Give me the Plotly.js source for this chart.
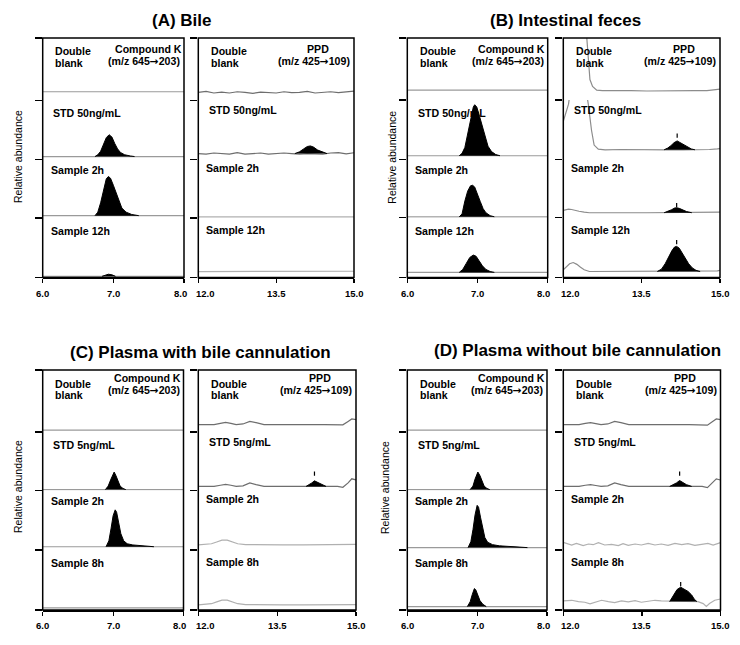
<!DOCTYPE html>
<html><head><meta charset="utf-8">
<script src="https://cdn.plot.ly/plotly-3.0.1.min.js"></script>
<style>html,body{margin:0;padding:0;background:#fff}#chart{width:740px;height:645px}</style>
</head><body><div id="chart"></div>
<script>
// ---------------- text ----------------
const panelTitles = ['(A) Bile', '(B) Intestinal feces', '(C) Plasma with bile cannulation', '(D) Plasma without bile cannulation'];
const laneLabelsTop = ['STD 50ng/mL', 'Sample 2h', 'Sample 12h'];
const laneLabelsBottom = ['STD 5ng/mL', 'Sample 2h', 'Sample 8h'];
const blankLabel = ['Double', 'blank'];
const ckHeader = ['Compound K', '(m/z 645\u2192203)'];
const ppdHeader = ['PPD', '(m/z 425\u2192109)'];
const yTitle = 'Relative abundance';

// ---------------- ticks ----------------
const ckRange = [6.0, 8.0];
const ckTicks = [6.0, 7.0, 8.0];
const ckTickText = ['6.0', '7.0', '8.0'];
const ppdRange = [12.0, 15.0];
const ppdTicks = [12.0, 13.5, 15.0];
const ppdTickText = ['12.0', '13.5', '15.0'];

// ---------------- chromatograms: time (min) / abundance (% of lane full scale) ----------------
const ckFlatT = [6.0, 8.0];
const ckFlatV = [0, 0];
const ppdFlatT = [12.0, 15.0];
const ppdFlatV = [0, 0];
const ppdFlatUpV = [0, 0.5];

// (A) Bile - Compound K
const A_ckStdT = [6.74, 6.78, 6.82, 6.86, 6.90, 6.94, 6.98, 7.02, 7.06, 7.10, 7.16, 7.24, 7.30];
const A_ckStdV = [0, 3, 9, 20, 32, 37, 33, 22, 13, 7, 3, 1, 0];
const A_ck2hT = [6.74, 6.78, 6.82, 6.86, 6.90, 6.93, 6.96, 7.00, 7.04, 7.08, 7.12, 7.18, 7.26, 7.36];
const A_ck2hV = [0, 6, 22, 45, 63, 67, 64, 52, 38, 24, 13, 6, 2, 0];
const A_ck12hT = [6.84, 6.89, 6.93, 6.98, 7.03];
const A_ck12hV = [0, 2.5, 3.5, 2.5, 0];
// (A) Bile - PPD
const A_ppdNoiseT = [12.0, 12.15, 12.3, 12.45, 12.6, 12.75, 12.9, 13.05, 13.2, 13.35, 13.5, 13.65, 13.8, 13.95, 14.1, 14.25, 14.4, 14.55, 14.7, 14.85, 15.0];
const A_ppdBlankV = [0, 1.5, -1, 0.5, -1, 1, 0, -1.5, 0.5, 0, -1, 1, -0.5, 0, 1.5, -1, 0, 1, -0.5, 1, 2];
const A_ppdStdLineV = [0, -1, 1, 0, -1, 1.5, -1, 0, 1, -1, 0, 1, 0, -1, 0, 0, -1, 1, 1.5, -0.5, 1.5];
const A_ppdStdPeakT = [13.86, 13.95, 14.03, 14.10, 14.16, 14.22, 14.30, 14.38, 14.48];
const A_ppdStdPeakV = [0, 3, 8, 12, 13, 11, 6, 3, 0];

// (B) Intestinal feces - Compound K
const B_ckStdT = [6.74, 6.78, 6.82, 6.86, 6.90, 6.94, 6.96, 6.99, 7.03, 7.07, 7.11, 7.15, 7.20, 7.26, 7.32];
const B_ckStdV = [0, 4, 14, 36, 62, 82, 86, 82, 66, 48, 30, 16, 7, 2, 0];
const B_ck2hT = [6.74, 6.78, 6.82, 6.86, 6.90, 6.93, 6.96, 7.00, 7.04, 7.08, 7.12, 7.18, 7.24];
const B_ck2hV = [0, 5, 27, 44, 53, 54, 51, 40, 26, 14, 7, 2, 0];
const B_ck12hT = [6.74, 6.79, 6.84, 6.89, 6.94, 6.98, 7.02, 7.07, 7.12, 7.18, 7.24];
const B_ck12hV = [0, 5, 15, 25, 29, 27, 20, 11, 5, 1.5, 0];
// (B) Intestinal feces - PPD
const B_ppdBlankT = [12.0, 12.20, 12.30, 12.38, 12.42, 12.45, 12.48, 12.51, 12.56, 12.64, 12.75, 13.0, 13.3, 13.6, 13.9, 14.2, 14.5, 14.75, 14.9, 15.0];
const B_ppdBlankV = [900, 600, 400, 230, 140, 85, 46, 18, 7, 1, 0, 0.5, 0, -0.5, 0, 0.5, 0, 0, 1, 2.5];
const B_ppdStdLineT = [12.0, 12.02, 12.06, 12.10, 12.15, 12.25, 12.35, 12.44, 12.48, 12.54, 12.59, 12.67, 12.8, 13.1, 13.4, 13.7, 14.0, 14.3, 14.6, 14.8, 14.95, 15.0];
const B_ppdStdLineV = [48, 54, 66, 77, 110, 160, 150, 100, 76, 33, 8, 1, 0, 0.5, 0, 0.5, 0, 0, 0, 0.5, 1.5, 2];
const B_ppdStdPeakT = [13.93, 14.00, 14.06, 14.12, 14.18, 14.24, 14.30, 14.38, 14.45, 14.52];
const B_ppdStdPeakV = [0, 3, 7, 12, 15, 12, 8, 4, 1.5, 0];
const B_ppdStdDotT = [14.18];
const B_ppdStdDotV = [24];
const B_ppd2hLineT = [12.0, 12.05, 12.1, 12.16, 12.22, 12.3, 12.4, 12.5, 12.7, 13.0, 13.3, 13.6, 13.9, 14.2, 14.5, 14.8, 15.0];
const B_ppd2hLineV = [4, 5.5, 6, 5.5, 4, 2.5, 1, 0, 0, 0.5, 0, 0, 0, 0, 0, 0, 1];
const B_ppd2hPeakT = [13.93, 14.00, 14.07, 14.13, 14.17, 14.22, 14.28, 14.36, 14.46];
const B_ppd2hPeakV = [0, 2, 5, 8, 8.5, 7.5, 5, 2, 0];
const B_ppd2hDotT = [14.17];
const B_ppd2hDotV = [13];
const B_ppd12hLineT = [12.0, 12.06, 12.12, 12.19, 12.26, 12.33, 12.40, 12.50, 12.7, 13.0, 13.3, 13.6, 13.8, 14.6, 14.8, 14.95, 15.0];
const B_ppd12hLineV = [3, 8, 13, 15, 12, 7, 3, 0, 0, 0.5, 0, 0, 0, 0, 0, 1, 2];
const B_ppd12hPeakT = [13.80, 13.88, 13.95, 14.02, 14.08, 14.13, 14.17, 14.22, 14.28, 14.34, 14.40, 14.47, 14.54, 14.62];
const B_ppd12hPeakV = [0, 4, 13, 25, 35, 41, 42, 39, 31, 22, 13, 6, 2, 0];
const B_ppd12hDotT = [14.17];
const B_ppd12hDotV = [49];

// (C) Plasma with bile cannulation - Compound K
const C_ckStdT = [6.89, 6.93, 6.97, 7.00, 7.015, 7.04, 7.07, 7.10, 7.14, 7.18];
const C_ckStdV = [0, 6, 18, 28, 30, 24, 13, 6, 2, 0];
const C_ck2hT = [6.90, 6.94, 6.97, 7.00, 7.03, 7.05, 7.08, 7.11, 7.15, 7.20, 7.28, 7.38, 7.50, 7.58];
const C_ck2hV = [0, 10, 30, 52, 62, 58, 40, 22, 10, 5, 3, 2, 1, 0];
// (C) Plasma with bile cannulation - PPD
const C_ppdWaveT = [12.0, 12.15, 12.3, 12.42, 12.52, 12.62, 12.72, 12.85, 12.98, 13.1, 13.25, 13.5, 13.8, 14.1, 14.4, 14.65, 14.75, 14.85, 14.92, 15.0];
const C_ppdBlankV = [0, -0.5, 0, 2, 3.5, 2, 0, 1, 5, 3, 0, 0, -0.5, 0, 0, 0, -0.5, 5, 9, 8];
const C_ppdStdLineV = [0, -0.5, 0, 2, 3.5, 2, 0, 1, 6, 3, 0, 0, -0.5, 0, 0, 0, -1.5, 6, 13, 11];
const C_ppdStdPeakT = [14.05, 14.11, 14.16, 14.21, 14.27, 14.34, 14.43];
const C_ppdStdPeakV = [0, 3, 6, 9.5, 7, 3, 0];
const C_ppdStdDotT = [14.21];
const C_ppdStdDotV = [22];
const C_ppdBumpT = [12.0, 12.15, 12.25, 12.35, 12.45, 12.55, 12.65, 12.75, 12.9, 13.2, 13.6, 14.0, 14.4, 14.8, 15.0];
const C_ppd2hLineV = [0, 0.5, 2, 5, 8, 8, 5, 2, 0.5, 0, 0, 0, 0, 0.5, 1];
const C_ppd8hLineV = [0, 0.5, 2, 5, 8, 8, 5, 2, 0.5, 0, 0, 0, 0, 0.5, 0.5];

// (D) Plasma without bile cannulation - Compound K
const D_ckStdT = [6.90, 6.94, 6.97, 7.00, 7.01, 7.04, 7.07, 7.10, 7.14, 7.18];
const D_ckStdV = [0, 6, 18, 28, 30, 24, 13, 6, 2, 0];
const D_ck2hT = [6.87, 6.91, 6.94, 6.97, 7.00, 7.02, 7.05, 7.08, 7.11, 7.15, 7.22, 7.32, 7.45, 7.60, 7.72];
const D_ck2hV = [0, 10, 30, 55, 71, 68, 50, 30, 17, 9, 5, 3, 2, 1, 0];
const D_ck8hT = [6.86, 6.90, 6.93, 6.96, 6.98, 7.01, 7.04, 7.08, 7.13];
const D_ck8hV = [0, 8, 20, 30, 28, 19, 10, 4, 0];
// (D) Plasma without bile cannulation - PPD
const D_ppdBlankV = [0, -0.5, 0, 2, 3, 1.5, 0, 1, 5, 3, 0, 0, -0.5, 0, 0, 0, -1, 5, 9, 8];
const D_ppdStdLineV = [0, -0.5, 0, 2, 3, 1.5, 0, 1, 6, 3, 0, 0, -0.5, 0, 0, 0, -2, 6, 13, 11];
const D_ppdStdPeakT = [14.03, 14.10, 14.16, 14.22, 14.28, 14.35, 14.45];
const D_ppdStdPeakV = [0, 3, 6, 10, 7, 3, 0];
const D_ppdStdDotT = [14.22];
const D_ppdStdDotV = [22];
const D_ppd2hLineT = [12.0, 12.16, 12.25, 12.38, 12.48, 12.57, 12.67, 12.79, 12.92, 13.05, 13.14, 13.24, 13.37, 13.49, 13.62, 13.75, 13.87, 14.0, 14.13, 14.26, 14.38, 14.51, 14.64, 14.76, 14.86, 15.0];
const D_ppd2hLineV = [3.3, -1.1, 1.7, -2.2, 0.6, -0.6, 2.8, -1.1, 0, -2.2, 1.1, -1.7, 0.6, -1.1, 1.7, -1.1, 0.6, -1.7, 1.7, -0.6, 1.1, -1.7, 0, 1.7, -1.1, 2.8];
const D_ppd8hLineT = [12.0, 12.16, 12.29, 12.41, 12.51, 12.60, 12.73, 12.86, 12.98, 13.11, 13.24, 13.37, 13.49, 13.62, 13.75, 13.87, 14.0, 14.26, 14.57, 14.67, 14.73, 14.79, 14.89, 15.0];
const D_ppd8hLineV = [1.1, 2.2, 0, -1.1, -3.9, -1.1, 2.2, 0, -1.7, 1.1, -0.6, 1.7, -1.1, 0.6, 2.2, 1.1, 1.1, 1.1, 0, -3.3, -8, -3.3, 2.2, 4.4];
const D_ppd8hPeakT = [14.03, 14.10, 14.17, 14.24, 14.31, 14.38, 14.45, 14.50, 14.55];
const D_ppd8hPeakV = [0, 11, 20, 24, 20, 17, 11, 4, 0];
const D_ppd8hDotT = [14.24];
const D_ppd8hDotV = [29];

// ---------------- layout geometry (px) & styles ----------------
const W = 740, H = 645;
const fx = x => x / W;
const fy = y => 1 - y / H;
const FONT = 'Arial, "Liberation Sans", Helvetica, sans-serif';
const GREY = '#9a9a9a', DARK = '#6e6e6e', LIGHT = '#b0b0b0', MID = '#8c8c8c';

const lane = (lt, lv, c, pt, pv, dt, dv) => ({line: [lt, lv], color: c, peak: pt ? [pt, pv] : null, dot: dt ? [dt, dv] : null});

const panels = [
  {title: panelTitles[0], titleXY: [181.7, 20], yTitleXY: [18, 157], labels: laneLabelsTop,
   rows: [38, 100.5, 159.5, 218, 277.5], head: [11.3, 22.7],
   ck: {x: [42.7, 184], d: [14, 5, 4, 2], lanes: [
     lane(ckFlatT, ckFlatV, GREY),
     lane(ckFlatT, ckFlatV, GREY, A_ckStdT, A_ckStdV),
     lane(ckFlatT, ckFlatV, GREY, A_ck2hT, A_ck2hV),
     lane(ckFlatT, ckFlatV, GREY, A_ck12hT, A_ck12hV)]},
   ppd: {x: [198.3, 354], d: [13, 10, 2, 10], lanes: [
     lane(A_ppdNoiseT, A_ppdBlankV, DARK),
     lane(A_ppdNoiseT, A_ppdStdLineV, DARK, A_ppdStdPeakT, A_ppdStdPeakV),
     lane(ppdFlatT, ppdFlatV, LIGHT),
     lane(ppdFlatT, ppdFlatUpV, LIGHT)]}},
  {title: panelTitles[1], titleXY: [565.8, 20], yTitleXY: [391.7, 157], labels: laneLabelsTop,
   rows: [38, 100, 159.3, 217.7, 277.5], head: [11.3, 22.7],
   ck: {x: [407.3, 547.7], d: [16, 6, 1.5, 8.5], lanes: [
     lane(ckFlatT, ckFlatV, GREY),
     lane(ckFlatT, ckFlatV, GREY, B_ckStdT, B_ckStdV),
     lane(ckFlatT, ckFlatV, GREY, B_ck2hT, B_ck2hV),
     lane(ckFlatT, ckFlatV, GREY, B_ck12hT, B_ck12hV)]},
   ppd: {x: [563.3, 720], d: [15, 16, 8.5, 10], lanes: [
     lane(B_ppdBlankT, B_ppdBlankV, MID),
     lane(B_ppdStdLineT, B_ppdStdLineV, MID, B_ppdStdPeakT, B_ppdStdPeakV, B_ppdStdDotT, B_ppdStdDotV),
     lane(B_ppd2hLineT, B_ppd2hLineV, MID, B_ppd2hPeakT, B_ppd2hPeakV, B_ppd2hDotT, B_ppd2hDotV),
     lane(B_ppd12hLineT, B_ppd12hLineV, MID, B_ppd12hPeakT, B_ppd12hPeakV, B_ppd12hDotT, B_ppd12hDotV)]}},
  {title: panelTitles[2], titleXY: [200, 352], yTitleXY: [18, 487], labels: laneLabelsBottom,
   rows: [370, 432, 490.5, 550, 610], head: [8, 20.3],
   ck: {x: [42.7, 183.5], d: [3, 1.5, 5.5, 3.4], lanes: [
     lane(ckFlatT, ckFlatV, GREY),
     lane(ckFlatT, ckFlatV, GREY, C_ckStdT, C_ckStdV),
     lane(ckFlatT, ckFlatV, GREY, C_ck2hT, C_ck2hV),
     lane(ckFlatT, ckFlatV, GREY)]},
   ppd: {x: [198.3, 356], d: [12, 7, 8.5, 8.5], lanes: [
     lane(C_ppdWaveT, C_ppdBlankV, DARK),
     lane(C_ppdWaveT, C_ppdStdLineV, DARK, C_ppdStdPeakT, C_ppdStdPeakV, C_ppdStdDotT, C_ppdStdDotV),
     lane(C_ppdBumpT, C_ppd2hLineV, LIGHT),
     lane(C_ppdBumpT, C_ppd8hLineV, LIGHT)]}},
  {title: panelTitles[3], titleXY: [577, 350], yTitleXY: [385, 488], labels: laneLabelsBottom,
   rows: [370, 432, 490.5, 550, 610], head: [8, 20.3],
   ck: {x: [407.3, 547], d: [3, 1.5, 4, 5.7], lanes: [
     lane(ckFlatT, ckFlatV, GREY),
     lane(ckFlatT, ckFlatV, GREY, D_ckStdT, D_ckStdV),
     lane(ckFlatT, ckFlatV, GREY, D_ck2hT, D_ck2hV),
     lane(ckFlatT, ckFlatV, GREY, D_ck8hT, D_ck8hV)]},
   ppd: {x: [563.3, 720.5], d: [12, 7, 9.5, 14], lanes: [
     lane(C_ppdWaveT, D_ppdBlankV, DARK),
     lane(C_ppdWaveT, D_ppdStdLineV, DARK, D_ppdStdPeakT, D_ppdStdPeakV, D_ppdStdDotT, D_ppdStdDotV),
     lane(D_ppd2hLineT, D_ppd2hLineV, LIGHT),
     lane(D_ppd8hLineT, D_ppd8hLineV, LIGHT, D_ppd8hPeakT, D_ppd8hPeakV, D_ppd8hDotT, D_ppd8hDotV)]}}
];

// ---------------- build ----------------
const traces = [];
const annotations = [];
const shapes = [];
const layout = {
  width: W, height: H, autosize: false,
  margin: {l: 0, r: 0, t: 0, b: 0},
  paper_bgcolor: '#fff', plot_bgcolor: 'rgba(0,0,0,0)',
  showlegend: false, hovermode: false,
  font: {family: FONT, color: '#000'}
};
const LBL = 10.6;
const txt = (s, x, y, opt) => Object.assign({text: s, x: fx(x), y: fy(y), xref: 'paper', yref: 'paper',
  showarrow: false, font: {family: FONT, size: LBL, color: '#000'}, xanchor: 'left', yanchor: 'middle'}, opt || {});
const arrowFix = s => s.replace('\u2192', '<span style="font-family:\'DejaVu Sans\'">\u2192</span>');

let xN = 0, yN = 0;
panels.forEach(P => {
  annotations.push(txt('<b>' + P.title + '</b>', P.titleXY[0], P.titleXY[1], {xanchor: 'center', font: {family: FONT, size: 17, color: '#000'}}));
  annotations.push(txt(yTitle, P.yTitleXY[0], P.yTitleXY[1], {xanchor: 'center', textangle: -90, font: {family: FONT, size: 10.5, color: '#000'}}));
  ['ck', 'ppd'].forEach(kind => {
    const C = P[kind];
    xN++;
    const xName = xN === 1 ? 'xaxis' : 'xaxis' + xN;
    const xRef = xN === 1 ? 'x' : 'x' + xN;
    const isCk = kind === 'ck';
    const tv = isCk ? ckTicks : ppdTicks;
    const tt = isCk ? ckTickText : ppdTickText;
    layout[xName] = {
      domain: [fx(C.x[0]), fx(C.x[1])], range: isCk ? ckRange : ppdRange, anchor: 'y' + (yN + 4),
      tickmode: 'array', tickvals: tv, showticklabels: false,
      ticks: 'outside', ticklen: 4, tickwidth: 1.2, tickcolor: '#000',
      showline: true, linewidth: 1.5, linecolor: '#000', showgrid: false, zeroline: false, fixedrange: true
    };
    // tick labels placed at the axis tick values; the ends where two panels meet are nudged apart
    tv.forEach((v, i) => {
      let shift = 0;
      if (isCk && i === tv.length - 1) shift = -4;
      if (!isCk && i === 0) shift = 7;
      annotations.push({text: '<b>' + tt[i] + '</b>', x: v, xref: xRef, y: fy(P.rows[4] + 15.5), yref: 'paper',
        xanchor: 'center', yanchor: 'middle', xshift: shift, showarrow: false,
        font: {family: FONT, size: 9.5, color: '#000'}});
    });
    shapes.push({type: 'rect', xref: 'paper', yref: 'paper', x0: fx(C.x[0]), x1: fx(C.x[1]),
      y0: fy(P.rows[4]), y1: fy(P.rows[0]), line: {color: '#000', width: 1.5}, fillcolor: 'rgba(0,0,0,0)', layer: 'above'});
    C.lanes.forEach((L, k) => {
      yN++;
      const yName = yN === 1 ? 'yaxis' : 'yaxis' + yN;
      const yRef = yN === 1 ? 'y' : 'y' + yN;
      const d = C.d[k];
      layout[yName] = {
        domain: [fy(P.rows[k + 1]), fy(P.rows[k])], range: [-d, 100 - d], anchor: xRef,
        showgrid: false, zeroline: false, showline: false, showticklabels: false,
        tickmode: 'array', tickvals: k === 0 ? [-d, 100 - d] : [-d],
        ticks: 'outside', ticklen: 7, tickwidth: 1.5, tickcolor: '#000', fixedrange: true
      };
      traces.push({type: 'scatter', mode: 'lines', x: L.line[0], y: L.line[1], xaxis: xRef, yaxis: yRef,
        line: {color: L.color, width: 1.2}, hoverinfo: 'skip'});
      if (L.peak) traces.push({type: 'scatter', mode: 'lines', x: L.peak[0], y: L.peak[1], xaxis: xRef, yaxis: yRef,
        fill: 'toself', fillcolor: '#000', line: {color: '#000', width: 1}, hoverinfo: 'skip'});
      if (L.dot) traces.push({type: 'scatter', mode: 'markers', x: L.dot[0], y: L.dot[1], xaxis: xRef, yaxis: yRef,
        marker: {symbol: 'line-ns-open', size: 3, color: '#000', line: {color: '#000', width: 1.2}}, hoverinfo: 'skip'});
    });
    // text inside the panel
    const left = C.x[0], right = C.x[1], top = P.rows[0];
    const hOff = isCk ? [12.8, 10.5, 12.8] : [10, 8.8, 11.8];
    annotations.push(txt('<b>' + blankLabel[0] + '</b>', left + 10.5, top + 13.5));
    annotations.push(txt('<b>' + blankLabel[1] + '</b>', left + 10.5, top + 25.2));
    const hd = isCk ? ckHeader : ppdHeader;
    annotations.push(txt('<b>' + hd[0] + '</b>', right - 36, top + P.head[0], {xanchor: 'center'}));
    annotations.push(txt('<b>' + arrowFix(hd[1]) + '</b>', right - 40, top + P.head[1], {xanchor: 'center'}));
    P.labels.forEach((s, i) => {
      annotations.push(txt('<b>' + s + '</b>', left + (i === 0 ? 8.2 : 6), P.rows[i + 1] + hOff[i]));
    });
  });
});
layout.annotations = annotations;
layout.shapes = shapes;

Plotly.newPlot('chart', traces, layout, {staticPlot: true, displayModeBar: false});
</script>
</body></html>
